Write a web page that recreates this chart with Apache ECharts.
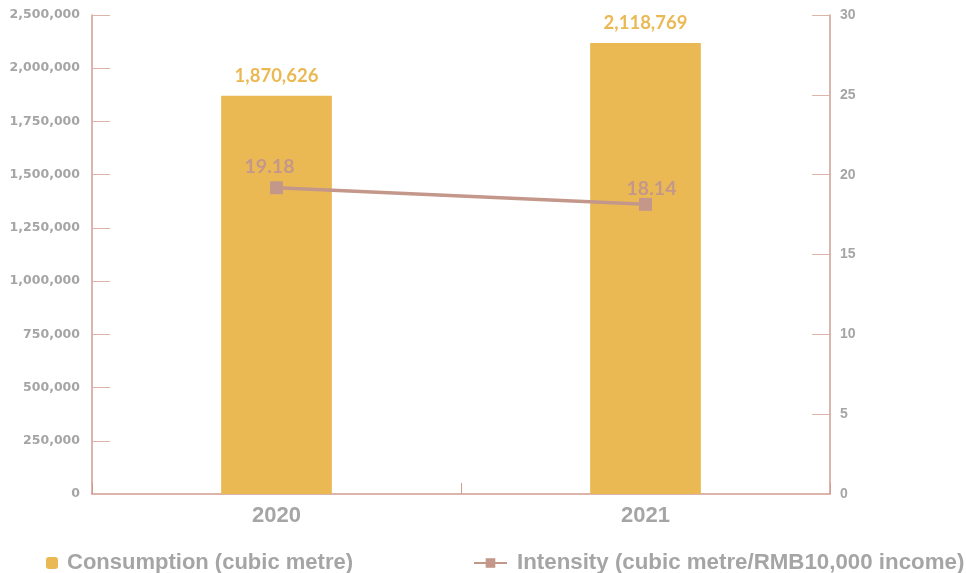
<!DOCTYPE html>
<html>
<head>
<meta charset="utf-8">
<script src="https://cdn.jsdelivr.net/npm/echarts@6/dist/echarts.min.js"></script>
<style>
  html, body { margin: 0; padding: 0; background: #ffffff; }
  #chart { width: 966px; height: 573px; }
</style>
</head>
<body>
<div id="chart"></div>
<script>
// Water consumption and intensity, 2020–2021
const years = ['2020', '2021'];
const consumption = [1870626, 2118769];
const intensity = [19.18, 18.14];

// Left axis tick labels, bottom to top (as printed on the report)
const leftTickLabels = ['0', '250,000', '500,000', '750,000', '1,000,000', '1,250,000',
  '1,500,000', '1,750,000', '2,000,000', '2,500,000'];
const leftStep = 250000;
const rightTicks = [0, 5, 10, 15, 20, 25, 30];

const seriesNames = ['Consumption (cubic metre)', 'Intensity (cubic metre/RMB10,000 income)'];

// Hand-placed nudges for the intensity value labels (pixels from each marker)
const intensityLabelShift = [[-7, -21], [6, -16]];

const gold = '#ebb954';
const rose = '#c4978b';
const axisRose = '#cf9d90';
const tickRose = '#dcb4a9';
const grey = '#a5a5a5';

const chart = echarts.init(document.getElementById('chart'));

const legendText = {
  fontFamily: 'Liberation Sans', fontWeight: 'bold', fontSize: 22, color: grey
};

chart.setOption({
  animation: false,
  grid: { left: 92, right: 136, top: 15, bottom: 79 },
  legend: [
    {
      data: [seriesNames[0]], left: 41, top: 547,
      itemWidth: 12, itemHeight: 12, itemGap: 10,
      textStyle: Object.assign({ padding: [0, 0, 0, 4] }, legendText)
    },
    {
      data: [seriesNames[1]], left: 468, top: 547,
      itemWidth: 33, itemHeight: 12, itemGap: 10,
      textStyle: Object.assign({ padding: [0, 0, 0, 5] }, legendText, { fontSize: 22.3 })
    }
  ],
  xAxis: {
    type: 'category',
    data: years,
    boundaryGap: true,
    axisLine: { lineStyle: { color: axisRose, width: 1.5 } },
    axisTick: { show: true, inside: true, length: 11, lineStyle: { color: axisRose } },
    axisLabel: { color: grey, fontFamily: 'Liberation Sans', fontWeight: 'bold', fontSize: 22, margin: 11 }
  },
  yAxis: [
    {
      type: 'value',
      min: 0,
      max: leftStep * (leftTickLabels.length - 1),
      interval: leftStep,
      splitLine: { show: false },
      axisLine: { show: true, lineStyle: { color: axisRose, width: 1.5 } },
      axisTick: { show: true, inside: true, length: 18, lineStyle: { color: tickRose } },
      axisLabel: {
        color: grey, fontFamily: 'DejaVu Sans', fontWeight: 'bold', fontSize: 12.5, margin: 12,
        formatter: v => leftTickLabels[Math.round(v / leftStep)]
      }
    },
    {
      type: 'value',
      min: rightTicks[0],
      max: rightTicks[rightTicks.length - 1],
      interval: rightTicks[1] - rightTicks[0],
      splitLine: { show: false },
      axisLine: { show: true, lineStyle: { color: axisRose, width: 1.5 } },
      axisTick: { show: true, inside: true, length: 18, lineStyle: { color: tickRose } },
      axisLabel: { color: grey, fontFamily: 'Liberation Sans', fontWeight: 'bold', fontSize: 14, margin: 10 }
    }
  ],
  series: [
    {
      name: seriesNames[0],
      type: 'bar',
      yAxisIndex: 0,
      data: consumption,
      barWidth: '30%',
      itemStyle: { color: gold },
      label: {
        show: true, position: 'top', distance: 10,
        color: gold, fontFamily: 'Lato', fontWeight: 'bold', fontSize: 18.5,
        formatter: p => p.value.toLocaleString('en-US')
      }
    },
    {
      name: seriesNames[1],
      type: 'line',
      yAxisIndex: 1,
      data: intensity.map((v, i) => ({
        value: v,
        label: { offset: intensityLabelShift[i] }
      })),
      symbol: 'rect',
      symbolSize: 13,
      lineStyle: { color: rose, width: 3.5 },
      itemStyle: { color: rose },
      label: {
        show: true, position: 'inside',
        color: rose, fontFamily: 'Lato', fontWeight: 'bold', fontSize: 19.5,
        formatter: p => p.value.toFixed(2)
      }
    }
  ]
});
</script>
</body>
</html>
